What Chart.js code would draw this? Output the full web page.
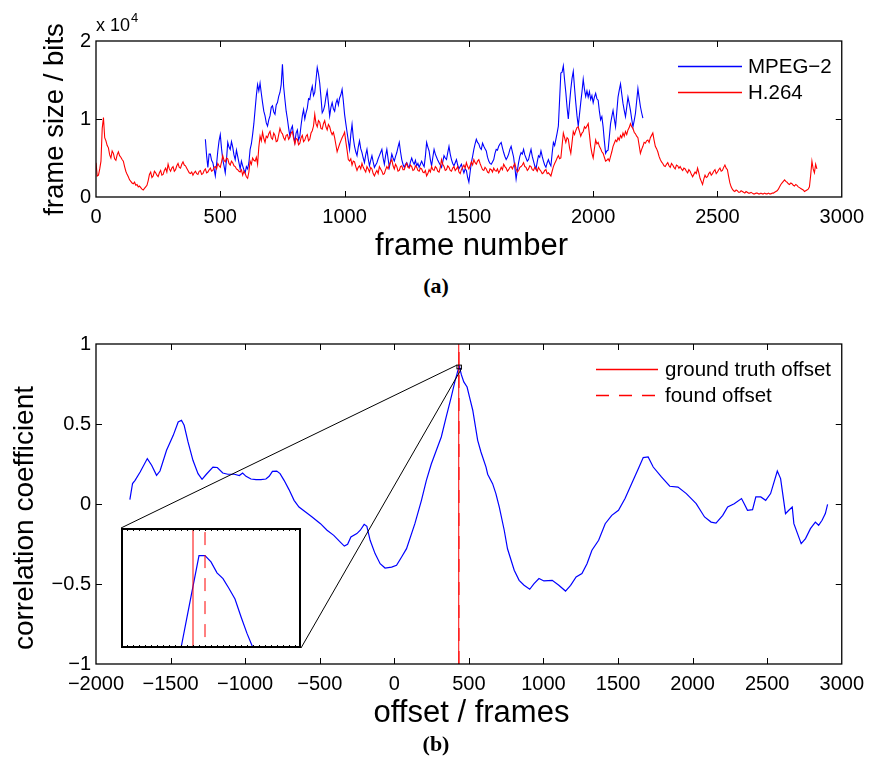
<!DOCTYPE html>
<html>
<head>
<meta charset="utf-8">
<script src="https://cdn.jsdelivr.net/npm/chart.js@4.4.1/dist/chart.umd.min.js"></script>
<style>
  html, body { margin: 0; padding: 0; background: #fff; }
  #page { position: relative; width: 872px; height: 769px; overflow: hidden; background: #fff; }
  canvas { position: absolute; }
  #cA { left: 0; top: 0; }
  #cB { left: 0; top: 300px; }
  #cZ { background: #fff; }
  .cap { position: absolute; font: bold 22px "Liberation Serif", "DejaVu Serif", serif; color: #000;
         transform: translate(-50%, -50%); white-space: nowrap; }
</style>
</head>
<body>
<div id="page">
  <canvas id="cA" width="872" height="270"></canvas>
  <canvas id="cB" width="872" height="469"></canvas>
  <canvas id="cZ" width="180" height="120"></canvas>
  <div class="cap" style="left:436px; top:286px">(a)</div>
  <div class="cap" style="left:436px; top:744px">(b)</div>
</div>
<script>
// ---------- (a) frame sizes in bits, one value every 5 frames ----------
const frameStep = 5;
const h264Start = 0;
const mpeg2Start = 440;

const h264Bits = [
  4400, 2700, 2800, 3600, 4600, 8800, 10200, 7600, 7200, 6600,
  6300, 5400, 5000, 5900, 5600, 4900, 4700, 5400, 5800, 5300,
  5100, 4800, 4600, 3900, 3300, 2900, 2600, 2200, 2000, 1800,
  1700, 1900, 1500, 1600, 1300, 1400, 1200, 1000, 900, 1100,
  1300, 1500, 2100, 2900, 3200, 2500, 2700, 3300, 3100, 2800,
  2600, 3100, 3400, 2800, 2900, 3400, 3700, 3200, 4200, 3600,
  3300, 3700, 3900, 3300, 3500, 4000, 4300, 3800, 3700, 4200,
  4500, 4100, 4000, 3700, 3400, 3100, 3000, 3200, 2800, 3100,
  3300, 3000, 2900, 3300, 3400, 2900, 3000, 3400, 3600, 3100,
  3200, 3500, 3700, 3300, 3400, 3800, 3900, 3600, 4300, 4000,
  3800, 4500, 5300, 4700, 4500, 5000, 4900, 4300, 4100, 4600,
  4400, 4000, 3900, 3600, 3500, 3300, 3200, 3500, 2800, 3300,
  3000, 2600, 2400, 3200, 4600, 4200, 5000, 4700, 4600, 5100,
  4200, 6400, 7800, 7200, 8300, 7500, 7000, 7800, 7600, 8100,
  8400, 7600, 7400, 8200, 7900, 7100, 7200, 8000, 8800, 8300,
  8100, 7600, 7300, 7900, 8000, 7400, 7700, 8200, 8400, 7500,
  6800, 7500, 7400, 6700, 6900, 7600, 7900, 7100, 7300, 7800,
  8000, 7200, 7400, 8200, 8500, 9100, 10600, 9400, 9000, 9800,
  9600, 8800, 8700, 9400, 9800, 9000, 8600, 9300, 9000, 8400,
  8000, 8300, 7600, 6700, 5800, 6300, 6800, 7200, 7600, 7900,
  8300, 7100, 6000, 4800, 4600, 4900, 4100, 4600, 4500, 3900,
  3400, 3800, 4000, 3600, 4300, 3800, 3500, 3200, 3900, 3600,
  3200, 3800, 3600, 3000, 2700, 3100, 3400, 3000, 3900, 3600,
  3300, 2900, 3000, 3500, 3900, 3600, 4100, 4500, 4800, 4000,
  3600, 4200, 3900, 3300, 3400, 3900, 4000, 3500, 3500, 4000,
  4300, 3800, 3700, 4100, 3900, 3400, 3500, 4000, 3800, 3400,
  3300, 3700, 3600, 3200, 3100, 3400, 2700, 3000, 3500, 3200,
  3900, 3500, 3400, 3900, 3700, 3300, 3200, 3800, 4800, 4200,
  3900, 3400, 3500, 4000, 3800, 3400, 3300, 3700, 3900, 3400,
  3600, 3900, 3200, 3000, 3500, 3800, 4100, 3700, 4400, 3900,
  3600, 4000, 4500, 4100, 4800, 4400, 4200, 4600, 4800, 4300,
  3900, 3500, 3400, 3800, 3600, 3200, 3100, 3600, 3500, 3200,
  3700, 3400, 3300, 3600, 3100, 3400, 3800, 3500, 4200, 3900,
  3700, 3300, 3500, 3800, 3900, 3600, 4000, 4300, 3600, 3200,
  3400, 3800, 3900, 4100, 4400, 3900, 3800, 3400, 3600, 4000,
  3900, 3500, 3400, 3800, 3600, 3300, 3800, 3500, 3300, 3000,
  3100, 3400, 3500, 3000, 3100, 2900, 2700, 3300, 3900, 4300,
  4600, 5000, 5300, 4900, 5000, 6600, 8200, 7600, 7000, 7600,
  7400, 6300, 5600, 7000, 8400, 8000, 8500, 8900, 9000, 8400,
  7800, 8200, 8400, 9000, 8800, 9100, 9400, 8000, 6500, 5600,
  5000, 6200, 7300, 6800, 7000, 6500, 6200, 5800, 5600, 5100,
  4600, 4700, 4900, 4600, 5200, 5800, 6500, 6900, 7300, 7100,
  7600, 7300, 7900, 7600, 8200, 7800, 8400, 8000, 8600, 8900,
  9400, 9000, 8800, 8300, 8100, 7800, 7600, 6600, 5600, 6100,
  6500, 7000, 6900, 7200, 7300, 7000, 7600, 7900, 8200, 7300,
  6500, 6200, 5800, 5200, 4800, 4500, 4300, 4000, 3900, 4200,
  4400, 4000, 3800, 4300, 4100, 3800, 3600, 4100, 4000, 3700,
  3900, 3600, 3400, 3700, 3600, 3300, 3100, 3500, 3300, 2900,
  2600, 2900, 3200, 3000, 3700, 3100, 2400, 2000, 1600, 2300,
  2800, 2500, 2600, 3000, 3200, 2800, 3000, 3300, 3500, 3000,
  3200, 3500, 3700, 3300, 3400, 3800, 4100, 3700, 3500, 2600,
  1800, 1300, 1000, 800, 700, 900, 800, 600, 600, 800,
  700, 600, 500, 700, 600, 500, 500, 600, 500, 400,
  400, 500, 500, 400, 400, 500, 400, 400, 500, 400,
  400, 500, 400, 400, 500, 500, 600, 700, 800, 1000,
  1300, 1600, 1800, 2000, 2200, 2000, 1900, 1700, 1600, 1800,
  1700, 1500, 1400, 1600, 1500, 1300, 1200, 1100, 1000, 900,
  700, 800, 900, 1000, 1300, 2800, 4600, 3600, 3100, 4200,
  3600
];

const mpeg2Bits = [
  7400, 5300, 3800, 5500, 5500, 4700, 4400, 3600, 2700, 4200,
  5900, 7200, 8000, 6200, 4800, 4000, 3100, 4800, 7000, 6400,
  6100, 7100, 6400, 5400, 4800, 6000, 5200, 4400, 3600, 4600,
  4000, 3500, 3100, 3900, 3600, 4400, 6100, 6800, 8000, 9400,
  11200, 13000, 14400, 13600, 14600, 13300, 12100, 11000, 10400, 9500,
  9100, 9900, 10400, 11500, 11700, 10900, 10600, 11800, 12100, 12900,
  13400, 14400, 17000, 14100, 12500, 11000, 10000, 8800, 7800, 8700,
  9100, 7800, 7000, 8200, 8600, 7300, 7800, 9200, 10400, 11200,
  10000, 10800, 11400, 12600, 12500, 13500, 14200, 13000, 13400, 15000,
  16600, 15800, 14600, 12800, 10800, 11100, 11700, 12800, 13600, 12000,
  10400, 11500, 12100, 11300, 11000, 12000, 12500, 11800, 12700, 13100,
  13800, 12300, 10600, 9400, 8300, 7200, 6100, 8000, 9300, 7600,
  6500, 5800, 5300, 6400, 7200, 6200, 5700, 5000, 4400, 5400,
  6100, 4900, 4000, 4700, 5300, 4500, 3800, 4100, 4400, 4900,
  5300, 5700, 6100, 5000, 4200, 5300, 6100, 4900, 3800, 4600,
  5500, 5000, 4600, 5200, 5700, 6400, 7000, 5800, 4800, 4200,
  3800, 4200, 4400, 4000, 3800, 4500, 5000, 4500, 4200, 4700,
  4000, 4300, 3800, 4200, 4600, 4200, 3900, 5200, 7000, 6400,
  5900, 4800, 4000, 5100, 6100, 5500, 5100, 4700, 4400, 4100,
  3800, 4500, 5300, 5000, 4800, 5700, 6500, 5500, 4800, 4300,
  4000, 4400, 4800, 4100, 3600, 3900, 4200, 3600, 3100, 3600,
  3400, 2500, 1900, 3200, 4400, 5200, 6100, 6800, 7400, 7000,
  6800, 6300, 6100, 6900, 6500, 6200, 5900, 5100, 4600, 4300,
  4200, 4500, 4800, 5600, 6100, 6000, 6500, 6800, 7000, 6300,
  5700, 5200, 4800, 5100, 5500, 6100, 6500, 5800, 5100, 3800,
  2300, 3400, 4400, 5200, 5700, 5500, 6100, 5400, 5000, 4600,
  4800, 5500, 6100, 5200, 4600, 4000, 3600, 4500, 5300, 5100,
  5900, 5200, 4600, 4100, 3800, 4400, 4800, 4300, 4000, 5600,
  7000, 6600, 7400, 8200, 9100, 12500, 15900, 16000, 16800, 15000,
  13400, 11500, 10000, 12000, 13800, 15200, 16100, 14000, 12100, 10400,
  9100, 10600, 12100, 13500, 15100, 13800, 12900, 13600, 12800, 13500,
  12500, 13000, 12100, 12800, 13300, 12600, 12400, 11000, 9900, 10300,
  9000, 7200, 5600, 5900, 6000, 7700, 9400, 10300, 11100, 10000,
  9000, 10900, 12800, 13700, 14500, 13200, 12000, 11100, 10300, 11500,
  12800, 12000, 11100, 10000, 9000, 9800, 10700, 12300, 13900, 12700,
  11600, 10800, 10100
];

const h264Frames = h264Bits.map((_, i) => h264Start + i * frameStep);
const mpeg2Frames = mpeg2Bits.map((_, i) => mpeg2Start + i * frameStep);
const codecNames = ['MPEG\u22122', 'H.264'];

// ---------- (b) cross-correlation against offset ----------
const corrOffset = [
  -1773, -1755, -1738, -1704, -1656, -1627, -1594, -1571, -1527, -1482,
  -1449, -1427, -1409, -1383, -1350, -1316, -1289, -1260, -1216, -1187,
  -1150, -1116, -1072, -1039, -1017, -994, -961, -927, -894, -861,
  -839, -817, -788, -766, -739, -706, -672, -639, -595, -551,
  -495, -451, -406, -362, -335, -313, -291, -251, -228, -202,
  -184, -162, -129, -95, -62, -18, 15, 49, 82, 138,
  182, 215, 248, 282, 315, 348, 382, 408, 420, 425,
  430, 431, 432, 433, 434, 435, 436, 437, 438, 439,
  440, 441, 442, 443, 445, 450, 466, 488, 504, 526,
  559, 581, 615, 626, 659, 681, 704, 737, 759, 804,
  837, 870, 908, 937, 970, 1003, 1059, 1103, 1148, 1182,
  1219, 1258, 1292, 1325, 1370, 1414, 1458, 1503, 1547, 1591,
  1636, 1669, 1702, 1736, 1791, 1847, 1902, 1958, 2024, 2080,
  2124, 2157, 2202, 2235, 2279, 2328, 2346, 2368, 2402, 2424,
  2457, 2490, 2523, 2568, 2590, 2623, 2645, 2668, 2679, 2728,
  2757, 2790, 2823, 2845, 2868, 2890, 2905
];
const corrValue = [
  0.027, 0.128, 0.148, 0.200, 0.284, 0.242, 0.179, 0.206, 0.336, 0.429,
  0.513, 0.523, 0.492, 0.388, 0.273, 0.190, 0.154, 0.186, 0.231, 0.228,
  0.194, 0.186, 0.186, 0.178, 0.194, 0.173, 0.156, 0.152, 0.152, 0.156,
  0.173, 0.204, 0.206, 0.190, 0.148, 0.090, 0.023, -0.019, -0.050, -0.081,
  -0.123, -0.164, -0.196, -0.238, -0.263, -0.252, -0.206, -0.185, -0.164, -0.127,
  -0.139, -0.227, -0.310, -0.373, -0.400, -0.394, -0.383, -0.331, -0.279, -0.123,
  0.023, 0.148, 0.250, 0.336, 0.419, 0.544, 0.669, 0.773, 0.812, 0.830,
  0.8450, 0.8509, 0.8568, 0.8627, 0.8627, 0.8615, 0.8594, 0.8583, 0.8564, 0.8544,
  0.8510, 0.8478, 0.8450, 0.8410, 0.832, 0.807, 0.763, 0.731, 0.669, 0.586,
  0.398, 0.325, 0.231, 0.186, 0.127, 0.065, -0.019, -0.164, -0.280, -0.414,
  -0.477, -0.508, -0.533, -0.498, -0.466, -0.481, -0.477, -0.508, -0.544, -0.508,
  -0.456, -0.435, -0.373, -0.289, -0.227, -0.123, -0.071, -0.039, 0.034, 0.127,
  0.221, 0.290, 0.294, 0.231, 0.169, 0.111, 0.106, 0.065, 0.002, -0.081,
  -0.113, -0.119, -0.071, -0.019, 0.002, 0.034, 0.002, -0.039, -0.035, 0.044,
  0.044, 0.023, 0.065, 0.206, 0.159, -0.060, -0.039, -0.019, -0.123, -0.248,
  -0.216, -0.154, -0.113, -0.133, -0.102, -0.060, -0.002
];

const offsetNames = ['ground truth offset', 'found offset'];
const offsetFrames = [432, 434];

// magnified window around the correlation peak
const zoomOffsets = [420, 450];
const zoomCorr = [0.845, 0.868];

// ---------- helpers ----------
const FONT = '"Liberation Sans", Arial, Helvetica, sans-serif';
Chart.defaults.font.family = FONT;
Chart.defaults.color = '#000';

const pts = (xs, ys) => xs.map((x, i) => ({ x, y: ys[i] }));
const minus = v => (v < 0 ? '\u2212' + Math.abs(v) : String(v));
const vline = x => [{ x, y: -1 }, { x, y: 1 }];

const BLUE = '#0000ff';
const RED = '#ff0000';

// box frame with inward tick marks on all four sides
const boxAxes = {
  id: 'boxAxes',
  afterDatasetsDraw(chart, args, o) {
    const { ctx, chartArea: a, scales: { x, y } } = chart;
    const L = o.tickLen || 6;
    ctx.save();
    ctx.setLineDash([]);
    ctx.strokeStyle = '#000';
    ctx.lineWidth = 1;
    ctx.beginPath();
    for (const t of x.ticks) {
      const p = Math.round(x.getPixelForValue(t.value)) + 0.5;
      if (p < a.left + 2 || p > a.right - 2) continue;
      ctx.moveTo(p, a.bottom); ctx.lineTo(p, a.bottom - L);
      ctx.moveTo(p, a.top); ctx.lineTo(p, a.top + L);
    }
    for (const t of y.ticks) {
      const p = Math.round(y.getPixelForValue(t.value)) + 0.5;
      if (p < a.top + 2 || p > a.bottom - 2) continue;
      ctx.moveTo(a.left, p); ctx.lineTo(a.left + L, p);
      ctx.moveTo(a.right, p); ctx.lineTo(a.right - L, p);
    }
    ctx.stroke();
    ctx.lineWidth = 1.3;
    ctx.strokeRect(a.left, a.top, a.right - a.left, a.bottom - a.top);
    ctx.restore();
  }
};

// legend drawn inside the plot; each entry names a dataset and its stroke
const innerLegend = {
  id: 'innerLegend',
  afterDraw(chart, args, o) {
    const { ctx } = chart;
    for (const e of o.entries) {
      const ds = chart.data.datasets[e.ds];
      ctx.save();
      ctx.globalAlpha = 1;
      ctx.globalCompositeOperation = 'source-over';
      ctx.lineWidth = 1.5;
      ctx.strokeStyle = e.color;
      ctx.setLineDash(e.dash || []);
      ctx.beginPath();
      ctx.moveTo(o.lineX[0], e.y);
      ctx.lineTo(o.lineX[1], e.y);
      ctx.stroke();
      ctx.restore();
      ctx.save();
      ctx.font = o.size + 'px ' + FONT;
      ctx.textBaseline = 'middle';
      ctx.textAlign = 'left';
      ctx.fillStyle = '#000';
      ctx.fillText(ds.label, o.textX, e.y + 1);
      ctx.restore();
    }
  }
};

// axis titles and exponent note
const axisText = {
  id: 'axisText',
  afterDraw(chart, args, o) {
    const { ctx } = chart;
    ctx.save();
    ctx.fillStyle = '#000';
    for (const t of o.items) {
      ctx.font = t.size + 'px ' + FONT;
      ctx.textBaseline = 'alphabetic';
      ctx.save();
      ctx.translate(t.x, t.y);
      if (t.rotate) ctx.rotate(-Math.PI / 2);
      ctx.textAlign = t.align || 'center';
      ctx.fillText(t.text, 0, 0);
      if (t.sup) {
        const w = ctx.measureText(t.text).width;
        ctx.font = Math.round(t.size * 0.7) + 'px ' + FONT;
        ctx.textAlign = 'left';
        ctx.fillText(t.sup, w + 1, -t.size * 0.5);
      }
      ctx.restore();
    }
    ctx.restore();
  }
};

// magnified panel placement on the page
const insetBox = { left: 121, top: 528, width: 180, height: 120 };
const canvasBTop = 300;

// rectangle around the magnified window and lines to the panel
const zoomLinks = {
  id: 'zoomLinks',
  afterDatasetsDraw(chart) {
    const { ctx, scales: { x, y } } = chart;
    const x1 = x.getPixelForValue(zoomOffsets[0]);
    const x2 = x.getPixelForValue(zoomOffsets[1]);
    const y1 = y.getPixelForValue(zoomCorr[1]);
    const y2 = y.getPixelForValue(zoomCorr[0]);
    const bl = insetBox.left, bt = insetBox.top - canvasBTop;
    const br = bl + insetBox.width, bb = bt + insetBox.height;
    ctx.save();
    ctx.setLineDash([]);
    ctx.strokeStyle = '#000';
    ctx.lineWidth = 1;
    ctx.strokeRect(x1, y1, x2 - x1, y2 - y1);
    ctx.beginPath();
    ctx.moveTo(bl, bt); ctx.lineTo(x1, y1);
    ctx.moveTo(br, bb); ctx.lineTo(x2, y2);
    ctx.stroke();
    ctx.restore();
  }
};

// frame of the magnified panel, with a tick at every frame
const insetFrame = {
  id: 'insetFrame',
  afterDatasetsDraw(chart) {
    const { ctx, chartArea: a, scales: { x } } = chart;
    ctx.save();
    ctx.setLineDash([]);
    ctx.strokeStyle = '#000';
    ctx.lineWidth = 1;
    ctx.beginPath();
    for (let f = zoomOffsets[0] + 1; f < zoomOffsets[1]; f++) {
      const p = Math.round(x.getPixelForValue(f)) + 0.5;
      ctx.moveTo(p, a.top); ctx.lineTo(p, a.top + 3);
      ctx.moveTo(p, a.bottom); ctx.lineTo(p, a.bottom - 3);
    }
    ctx.stroke();
    ctx.lineWidth = 2;
    ctx.strokeRect(a.left + 1, a.top + 1, a.right - a.left - 2, a.bottom - a.top - 2);
    ctx.restore();
  }
};

const lineDs = (label, data, color, extra) => Object.assign({
  label, data, borderColor: color, backgroundColor: color,
  borderWidth: 1.1, pointRadius: 0, tension: 0, fill: false
}, extra || {});

const noGrid = { display: false, drawTicks: false };
const noBorder = { display: false };
const TICK_FONT = { size: 20 };
const FOUND_DASH = [13, 10];

// ---------- chart (a) ----------
new Chart(document.getElementById('cA'), {
  type: 'line',
  data: {
    datasets: [
      lineDs(codecNames[0], pts(mpeg2Frames, mpeg2Bits), BLUE, { order: 1 }),
      lineDs(codecNames[1], pts(h264Frames, h264Bits), RED, { order: 0 })
    ]
  },
  options: {
    responsive: false, animation: false, devicePixelRatio: 1,
    layout: { padding: { left: 0, top: 41, right: 25, bottom: 0 } },
    plugins: {
      legend: { display: false }, tooltip: { enabled: false },
      boxAxes: { tickLen: 6 },
      innerLegend: { size: 20.5, lineX: [678, 742], textX: 748,
        entries: [{ ds: 0, y: 66.5, color: BLUE }, { ds: 1, y: 92.5, color: RED }] },
      axisText: { items: [
        { text: 'frame number', x: 471.5, y: 255, size: 31 },
        { text: 'frame size / bits', x: 63, y: 119.5, size: 27.5, rotate: true },
        { text: 'x 10', sup: '4', x: 96, y: 31, size: 18, align: 'left' }
      ] }
    },
    scales: {
      x: {
        type: 'linear', min: 0, max: 3000,
        ticks: { stepSize: 500, font: TICK_FONT, padding: 8, maxRotation: 0, autoSkip: false, callback: minus },
        grid: noGrid, border: noBorder,
        afterFit: s => { s.height = 73; }
      },
      y: {
        min: 0, max: 20000,
        ticks: { stepSize: 10000, font: TICK_FONT, padding: 5, callback: v => minus(v / 10000) },
        grid: noGrid, border: noBorder,
        afterFit: s => { s.width = 96; }
      }
    }
  },
  plugins: [boxAxes, innerLegend, axisText]
});

// ---------- chart (b) ----------
const corrDatasets = () => [
  lineDs('correlation', pts(corrOffset, corrValue), BLUE, { order: 2, borderWidth: 1.2, clip: 0 }),
  lineDs(offsetNames[0], vline(offsetFrames[0]), RED, { order: 0, borderWidth: 1, clip: 0 }),
  lineDs(offsetNames[1], vline(offsetFrames[1]), RED, { order: 1, borderWidth: 1, borderDash: FOUND_DASH, clip: 0 })
];

new Chart(document.getElementById('cB'), {
  type: 'line',
  data: { datasets: corrDatasets() },
  options: {
    responsive: false, animation: false, devicePixelRatio: 1,
    layout: { padding: { left: 0, top: 44, right: 25, bottom: 0 } },
    plugins: {
      legend: { display: false }, tooltip: { enabled: false },
      boxAxes: { tickLen: 6 },
      innerLegend: { size: 20.5, lineX: [596, 658], textX: 665,
        entries: [{ ds: 1, y: 69.5, color: RED }, { ds: 2, y: 95.5, color: RED, dash: FOUND_DASH }] },
      axisText: { items: [
        { text: 'offset / frames', x: 471.5, y: 422, size: 31 },
        { text: 'correlation coefficient', x: 33, y: 218, size: 28, rotate: true }
      ] }
    },
    scales: {
      x: {
        type: 'linear', min: -2000, max: 3000,
        ticks: { stepSize: 500, font: TICK_FONT, padding: 8, maxRotation: 0, autoSkip: false, callback: minus },
        grid: noGrid, border: noBorder,
        afterFit: s => { s.height = 105; }
      },
      y: {
        min: -1, max: 1,
        ticks: { stepSize: 0.5, font: TICK_FONT, padding: 5, callback: minus },
        grid: noGrid, border: noBorder,
        afterFit: s => { s.width = 96; }
      }
    }
  },
  plugins: [zoomLinks, boxAxes, innerLegend, axisText]
});

// ---------- magnified panel ----------
const cZ = document.getElementById('cZ');
cZ.style.left = insetBox.left + 'px';
cZ.style.top = insetBox.top + 'px';
new Chart(cZ, {
  type: 'line',
  data: { datasets: corrDatasets() },
  options: {
    responsive: false, animation: false, devicePixelRatio: 1,
    layout: { padding: 0 },
    plugins: { legend: { display: false }, tooltip: { enabled: false } },
    scales: {
      x: { type: 'linear', display: false, min: zoomOffsets[0], max: zoomOffsets[1] },
      y: { display: false, min: zoomCorr[0], max: zoomCorr[1] }
    }
  },
  plugins: [insetFrame]
});
</script>
</body>
</html>
